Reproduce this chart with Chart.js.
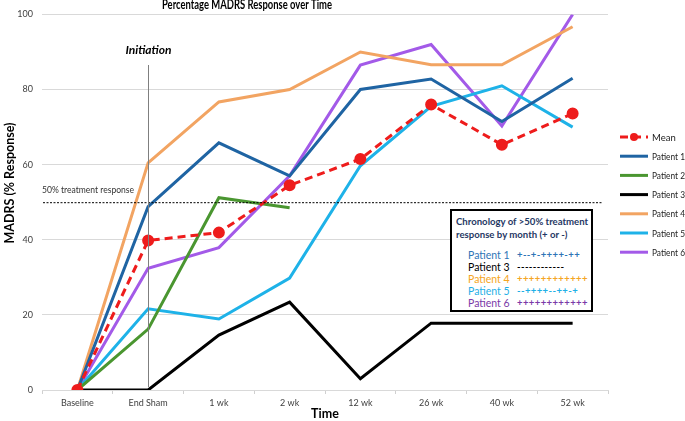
<!DOCTYPE html>
<html>
<head>
<meta charset="utf-8">
<script src="https://cdn.jsdelivr.net/npm/chart.js@4.4.1/dist/chart.umd.min.js"></script>
<style>
  html, body { margin: 0; padding: 0; background: #fff; overflow: hidden; }
  #wrap { position: relative; width: 685px; height: 421px; font-family: Lato, "Open Sans", sans-serif; }
  #chronology {
    position: absolute; left: 450px; top: 209px; width: 139px; height: 99px;
    border: 2px solid #000; background: #fff;
  }
  #chronology .head { position: absolute; left: 4px; top: 5px; font-size: 9.6px; font-weight: bold; color: #1f3864; line-height: 12.5px; white-space: nowrap; }
  #chronology .row { position: absolute; left: 16px; font-size: 10.5px; line-height: 12px; white-space: nowrap; }
  #chronology .row span.sym { position: absolute; left: 49px; top: 0; letter-spacing: 0.4px; font-size: 9.5px; font-weight: bold; }
</style>
</head>
<body>
<div id="wrap">
  <canvas id="chart" width="685" height="421"></canvas>
  <div id="chronology">
    <div class="head">Chronology of &gt;50% treatment<br>response by month (+ or -)</div>
    <div class="row" style="top:38px;color:#2e75b6">Patient 1<span class="sym">+--+-++++-++</span></div>
    <div class="row" style="top:50px;color:#000">Patient 3<span class="sym">------------</span></div>
    <div class="row" style="top:62px;color:#f5a623">Patient 4<span class="sym">++++++++++++</span></div>
    <div class="row" style="top:74px;color:#1fb0e6">Patient 5<span class="sym">--++++--++-+</span></div>
    <div class="row" style="top:86px;color:#7b3aa8">Patient 6<span class="sym">++++++++++++</span></div>
  </div>
</div>
<script>
// ---- Data ----
const timepoints = ['Baseline', 'End Sham', '1 wk', '2 wk', '12 wk', '26 wk', '40 wk', '52 wk'];
const yTicks = [0, 20, 40, 60, 80, 100];
const meanResp = [0, 39.8, 41.9, 54.5, 61.5, 76, 65.3, 73.6];
const patient1 = [0, 48.8, 65.8, 57, 80, 82.8, 71.5, 83];
const patient2 = [0, 16.2, 51.2, 48.5, null, null, null, null];
const patient3 = [0, 0, 14.6, 23.4, 3, 17.8, 17.8, 17.8];
const patient4 = [0, 60.5, 76.7, 80, 90, 86.6, 86.6, 96.7];
const patient5 = [0, 21.6, 18.9, 29.8, 59.7, 75.5, 81, 70];
const patient6 = [0, 32.4, 37.9, 57, 86.5, 92, 70.3, 100];
const responseThreshold = 50;
const initiationAt = 'End Sham';

const FONT = 'Lato, "Open Sans", sans-serif';

function line(label, data, color) {
  return { label, data, borderColor: color, backgroundColor: color, borderWidth: 3,
           pointRadius: 0, tension: 0, spanGaps: false };
}

const datasets = [
  Object.assign(line('Mean', meanResp, '#ee1c1c'), { borderDash: [8, 5], pointRadius: 4.5, pointHoverRadius: 4.5 }),
  line('Patient 1', patient1, '#1f64a3'),
  line('Patient 2', patient2, '#4a9630'),
  line('Patient 3', patient3, '#000000'),
  line('Patient 4', patient4, '#f2a462'),
  line('Patient 5', patient5, '#1eb2e8'),
  line('Patient 6', patient6, '#a35ae8')
];

// squeeze text horizontally so it spans a given width (original used a narrow font)
function fitText(ctx, text, cx, y, width) {
  const w = ctx.measureText(text).width;
  const k = Math.min(1, width / w);
  ctx.save();
  ctx.translate(cx, y); ctx.scale(k, 1);
  ctx.fillText(text, 0, 0);
  ctx.restore();
}

// ---- Annotations: title, axis titles, threshold line, initiation marker, legend ----
const annotations = {
  id: 'annotations',
  afterDatasetsDraw(chart) {
    const { ctx, chartArea, scales: { x, y } } = chart;
    ctx.save();

    // 50% threshold
    const yT = y.getPixelForValue(responseThreshold);
    ctx.strokeStyle = '#000'; ctx.lineWidth = 1; ctx.setLineDash([2, 1.5]);
    ctx.beginPath(); ctx.moveTo(chartArea.left + 1, yT + 0.5); ctx.lineTo(chartArea.right - 6, yT + 0.5); ctx.stroke();
    ctx.setLineDash([]);
    ctx.fillStyle = '#333'; ctx.font = '9px ' + FONT; ctx.textAlign = 'left'; ctx.textBaseline = 'alphabetic';
    fitText(ctx, '50% treatment response', chartArea.left, yT - 9, 92);

    // initiation marker
    const xI = Math.round(x.getPixelForValue(timepoints.indexOf(initiationAt))) + 0.5;
    ctx.strokeStyle = '#7f7f7f'; ctx.lineWidth = 1;
    ctx.beginPath(); ctx.moveTo(xI, 65); ctx.lineTo(xI, chartArea.bottom - 3); ctx.stroke();
    ctx.fillStyle = '#000'; ctx.font = 'italic bold 12px ' + FONT; ctx.textAlign = 'center';
    ctx.fillText('Initiation', xI, 54);

    // title
    ctx.font = 'bold 13.5px ' + FONT;
    fitText(ctx, 'Percentage MADRS Response over Time', 247, 8.5, 170);

    // axis titles
    ctx.font = 'bold 12.5px ' + FONT;
    ctx.fillText('Time', 325, 418);
    ctx.save();
    ctx.translate(14, 183); ctx.rotate(-Math.PI / 2);
    ctx.fillText('MADRS (% Response)', 0, 0);
    ctx.restore();

    // legend
    ctx.textAlign = 'left'; ctx.textBaseline = 'middle'; ctx.font = '9.5px ' + FONT;
    chart.data.datasets.forEach((ds, i) => {
      const cy = 137 + i * 19.2;
      ctx.strokeStyle = ds.borderColor; ctx.lineWidth = 3;
      ctx.setLineDash(ds.borderDash || []);
      ctx.beginPath(); ctx.moveTo(620, cy); ctx.lineTo(648, cy); ctx.stroke();
      ctx.setLineDash([]);
      if (ds.pointRadius) {
        ctx.fillStyle = ds.backgroundColor;
        ctx.beginPath(); ctx.arc(634, cy, 4, 0, Math.PI * 2); ctx.fill();
      }
      ctx.fillStyle = '#222';
      fitText(ctx, ds.label, 652, cy + 0.5, 33);
    });
    ctx.restore();
  }
};

new Chart(document.getElementById('chart'), {
  type: 'line',
  data: { labels: timepoints, datasets },
  options: {
    responsive: false,
    animation: false,
    layout: { padding: { top: 14, right: 77, left: 0, bottom: 0 } },
    plugins: { legend: { display: false }, title: { display: false }, tooltip: { enabled: false } },
    scales: {
      x: {
        offset: true,
        grid: { offset: true, drawOnChartArea: false, drawTicks: true, tickLength: 4, color: '#d0d0d0' },
        border: { display: true, color: '#d9d9d9' },
        ticks: { color: '#404040', font: { family: FONT, size: 9 }, padding: 4, maxRotation: 0 },
        afterFit: s => { s.height = 31; }
      },
      y: {
        min: 0, max: 100,
        afterBuildTicks: s => { s.ticks = yTicks.map(v => ({ value: v })); },
        grid: { color: '#d9d9d9', drawTicks: false },
        border: { display: false },
        ticks: { color: '#404040', font: { family: FONT, size: 9 }, padding: 9 },
        afterFit: s => { s.width = 42; }
      }
    }
  },
  plugins: [annotations]
});
</script>
</body>
</html>
